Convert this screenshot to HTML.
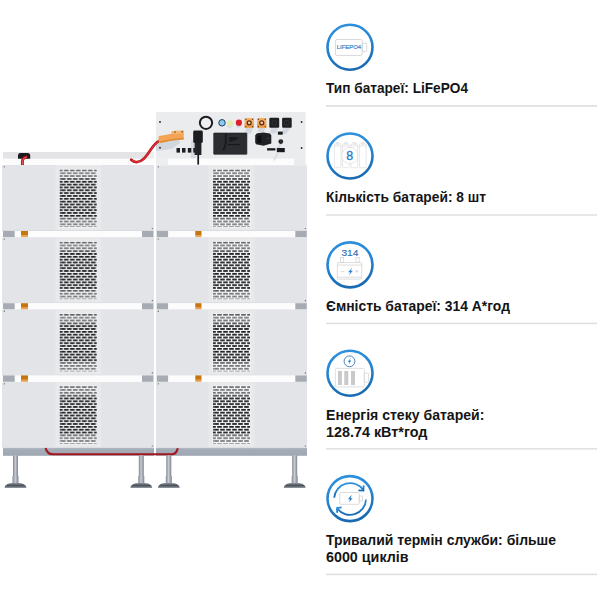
<!DOCTYPE html>
<html><head><meta charset="utf-8"><style>
html,body{margin:0;padding:0;background:#fff;width:600px;height:600px;overflow:hidden}
svg{display:block}
text{font-family:"Liberation Sans",sans-serif;font-weight:bold;fill:#151515;font-size:13.8px}
</style></head><body>
<svg width="600" height="600" viewBox="0 0 600 600">
<defs>
  <pattern id="gr" x="0" y="0" width="6" height="5.68" patternUnits="userSpaceOnUse">
    <rect x="4.2" y="0.05" width="1.8" height="1.65" fill="#121315"/>
    <rect x="0" y="0.05" width="2.8" height="1.65" fill="#121315"/>
    <rect x="1.2" y="2.89" width="4.6" height="1.65" fill="#121315"/>
  </pattern>
  <pattern id="gr2" x="0" y="0" width="6" height="5.68" patternUnits="userSpaceOnUse">
    <rect x="0.2" y="2.89" width="1.2" height="1.65" fill="#121315"/>
  </pattern>
  <linearGradient id="grfade" x1="0" y1="0" x2="0" y2="1">
    <stop offset="0" stop-color="#f4f5f7" stop-opacity="0.2"/>
    <stop offset="0.06" stop-color="#f4f5f7" stop-opacity="0.45"/>
    <stop offset="0.15" stop-color="#f4f5f7" stop-opacity="0.35"/>
    <stop offset="0.2" stop-color="#f4f5f7" stop-opacity="0"/>
    <stop offset="0.8" stop-color="#f4f5f7" stop-opacity="0"/>
    <stop offset="0.86" stop-color="#f4f5f7" stop-opacity="0.4"/>
    <stop offset="1" stop-color="#f4f5f7" stop-opacity="0.45"/>
  </linearGradient>
  <linearGradient id="blue" x1="0" y1="0" x2="0.2" y2="1">
    <stop offset="0" stop-color="#2f92de"/>
    <stop offset="0.5" stop-color="#2584d2"/>
    <stop offset="1" stop-color="#1a6bb4"/>
  </linearGradient>
  <linearGradient id="basegr" x1="0" y1="0" x2="0" y2="1">
    <stop offset="0" stop-color="#b3bac5"/>
    <stop offset="0.25" stop-color="#a4acb8"/>
    <stop offset="0.85" stop-color="#a0a8b4"/>
    <stop offset="1" stop-color="#8f97a3"/>
  </linearGradient>
  <linearGradient id="tabgr" x1="0" y1="0" x2="0" y2="1">
    <stop offset="0" stop-color="#e08a2a"/>
    <stop offset="1" stop-color="#f8c898"/>
  </linearGradient>
  <linearGradient id="leg" x1="0" y1="0" x2="1" y2="0">
    <stop offset="0" stop-color="#7d848e"/>
    <stop offset="0.45" stop-color="#c9cdd3"/>
    <stop offset="1" stop-color="#7d848e"/>
  </linearGradient>
  <linearGradient id="foot" x1="0" y1="0" x2="0" y2="1">
    <stop offset="0" stop-color="#8a9099"/>
    <stop offset="0.5" stop-color="#4b5059"/>
    <stop offset="1" stop-color="#9aa0a8"/>
  </linearGradient>
  <g id="grill">
    <rect x="-0.5" y="-0.5" width="38" height="58.5" fill="#f3f4f6"/>
    <rect x="0" y="0" width="37" height="57.5" fill="url(#gr)"/>
    <rect x="0" y="0" width="1.4" height="57.5" fill="url(#gr2)"/>
    <rect x="-0.5" y="-0.5" width="38" height="58.5" fill="url(#grfade)"/>
  </g>
  <g id="legx">
    <rect x="-2.5" y="0" width="5" height="22" fill="url(#leg)"/>
    <rect x="-3" y="20.5" width="6" height="7.5" fill="url(#leg)"/>
    <path d="M-11,32.6 Q-11,30 -8,28.6 Q-6,27.6 -3,27.6 L3,27.6 Q6,27.6 8,28.6 Q11,30 11,32.6 Z" fill="url(#foot)"/>
  </g>
</defs>

<!-- ============ LEFT CABINET ============ -->
<!-- top cap -->
<rect x="3" y="152" width="151" height="6.8" fill="#e4e4e7"/>
<rect x="147" y="152" width="7" height="13" fill="#eeeff1"/>
<rect x="3" y="158.8" width="151" height="6.2" fill="#fcfcfd"/>
<!-- small connector + red cable at top left -->
<path d="M18,158.8 L18,155.6 Q18,153 20.6,153 L27.6,153 Q30.2,153 30.2,155.6 L30.2,158.8 Z" fill="#1b1b1e"/>
<path d="M22.4,165 L22.4,161.5 Q22.6,157.4 27.2,156.8" stroke="#a8141b" stroke-width="2.9" fill="none"/>
<path d="M22.4,164.6 L22.4,161.5 Q22.6,157.6 26.8,157" stroke="#f06868" stroke-width="1" fill="none"/>

<!-- modules -->
<rect x="2" y="165.0" width="152" height="65.3" fill="#e3e4e7"/>
<rect x="55.3" y="165.0" width="46" height="65.0" fill="#e8e9eb"/>
<use href="#grill" x="59.75" y="169.5"/>
<circle cx="4.3" cy="166.8" r="0.6" fill="#4a4c52"/>
<circle cx="152.3" cy="228.5" r="0.6" fill="#4a4c52"/>
<rect x="2" y="230.3" width="152" height="0.9" fill="#cdd0d5"/>
<rect x="2" y="231.0" width="152" height="7" fill="#fcfcfd"/>
<rect x="3" y="231.0" width="11.7" height="6.4" fill="#a7acb4"/>
<rect x="142" y="231.0" width="11.5" height="6.4" fill="#a7acb4"/>
<rect x="21" y="231.0" width="7" height="4.4" fill="#c5760f"/>
<rect x="21" y="235.4" width="7" height="2.4" fill="url(#tabgr)"/>
<rect x="2" y="237.2" width="152" height="65.3" fill="#e3e4e7"/>
<rect x="55.3" y="237.2" width="46" height="65.0" fill="#e8e9eb"/>
<use href="#grill" x="59.75" y="241.7"/>
<circle cx="4.3" cy="239.0" r="0.6" fill="#4a4c52"/>
<circle cx="152.3" cy="300.7" r="0.6" fill="#4a4c52"/>
<rect x="2" y="302.5" width="152" height="0.9" fill="#cdd0d5"/>
<rect x="2" y="303.2" width="152" height="7" fill="#fcfcfd"/>
<rect x="3" y="303.2" width="11.7" height="6.4" fill="#a7acb4"/>
<rect x="142" y="303.2" width="11.5" height="6.4" fill="#a7acb4"/>
<rect x="21" y="303.2" width="7" height="4.4" fill="#c5760f"/>
<rect x="21" y="307.6" width="7" height="2.4" fill="url(#tabgr)"/>
<rect x="2" y="309.4" width="152" height="65.3" fill="#e3e4e7"/>
<rect x="55.3" y="309.4" width="46" height="65.0" fill="#e8e9eb"/>
<use href="#grill" x="59.75" y="313.9"/>
<circle cx="4.3" cy="311.2" r="0.6" fill="#4a4c52"/>
<circle cx="152.3" cy="372.9" r="0.6" fill="#4a4c52"/>
<rect x="2" y="374.7" width="152" height="0.9" fill="#cdd0d5"/>
<rect x="2" y="375.4" width="152" height="7" fill="#fcfcfd"/>
<rect x="3" y="375.4" width="11.7" height="6.4" fill="#a7acb4"/>
<rect x="142" y="375.4" width="11.5" height="6.4" fill="#a7acb4"/>
<rect x="21" y="375.4" width="7" height="4.4" fill="#c5760f"/>
<rect x="21" y="379.8" width="7" height="2.4" fill="url(#tabgr)"/>
<rect x="2" y="382.0" width="152" height="65.8" fill="#e3e4e7"/>
<rect x="55.3" y="382.0" width="46" height="65.5" fill="#e8e9eb"/>
<use href="#grill" x="59.75" y="386.2"/>
<circle cx="4.3" cy="383.8" r="0.6" fill="#4a4c52"/>
<circle cx="152.3" cy="446.0" r="0.6" fill="#4a4c52"/>
<rect x="156" y="165.0" width="151" height="65.3" fill="#e3e4e7"/>
<rect x="208.5" y="165.0" width="46" height="65.0" fill="#e8e9eb"/>
<use href="#grill" x="213" y="169.5"/>
<circle cx="158.3" cy="166.8" r="0.6" fill="#4a4c52"/>
<circle cx="305.3" cy="228.5" r="0.6" fill="#4a4c52"/>
<rect x="156" y="230.3" width="151" height="0.9" fill="#cdd0d5"/>
<rect x="156" y="231.0" width="151" height="7" fill="#fcfcfd"/>
<rect x="156.7" y="231.0" width="11.4" height="6.4" fill="#a7acb4"/>
<rect x="295.3" y="231.0" width="11.5" height="6.4" fill="#a7acb4"/>
<rect x="195.3" y="231.0" width="6.2" height="4.4" fill="#c5760f"/>
<rect x="195.3" y="235.4" width="6.2" height="2.4" fill="url(#tabgr)"/>
<rect x="156" y="237.2" width="151" height="65.3" fill="#e3e4e7"/>
<rect x="208.5" y="237.2" width="46" height="65.0" fill="#e8e9eb"/>
<use href="#grill" x="213" y="241.7"/>
<circle cx="158.3" cy="239.0" r="0.6" fill="#4a4c52"/>
<circle cx="305.3" cy="300.7" r="0.6" fill="#4a4c52"/>
<rect x="156" y="302.5" width="151" height="0.9" fill="#cdd0d5"/>
<rect x="156" y="303.2" width="151" height="7" fill="#fcfcfd"/>
<rect x="156.7" y="303.2" width="11.4" height="6.4" fill="#a7acb4"/>
<rect x="295.3" y="303.2" width="11.5" height="6.4" fill="#a7acb4"/>
<rect x="195.3" y="303.2" width="6.2" height="4.4" fill="#c5760f"/>
<rect x="195.3" y="307.6" width="6.2" height="2.4" fill="url(#tabgr)"/>
<rect x="156" y="309.4" width="151" height="65.3" fill="#e3e4e7"/>
<rect x="208.5" y="309.4" width="46" height="65.0" fill="#e8e9eb"/>
<use href="#grill" x="213" y="313.9"/>
<circle cx="158.3" cy="311.2" r="0.6" fill="#4a4c52"/>
<circle cx="305.3" cy="372.9" r="0.6" fill="#4a4c52"/>
<rect x="156" y="374.7" width="151" height="0.9" fill="#cdd0d5"/>
<rect x="156" y="375.4" width="151" height="7" fill="#fcfcfd"/>
<rect x="156.7" y="375.4" width="11.4" height="6.4" fill="#a7acb4"/>
<rect x="295.3" y="375.4" width="11.5" height="6.4" fill="#a7acb4"/>
<rect x="195.3" y="375.4" width="6.2" height="4.4" fill="#c5760f"/>
<rect x="195.3" y="379.8" width="6.2" height="2.4" fill="url(#tabgr)"/>
<rect x="156" y="382.0" width="151" height="65.8" fill="#e3e4e7"/>
<rect x="208.5" y="382.0" width="46" height="65.5" fill="#e8e9eb"/>
<use href="#grill" x="213" y="386.2"/>
<circle cx="158.3" cy="383.8" r="0.6" fill="#4a4c52"/>
<circle cx="305.3" cy="446.0" r="0.6" fill="#4a4c52"/>

<!-- base -->
<rect x="3" y="447.8" width="151" height="7.9" fill="url(#basegr)"/>
<rect x="156" y="447.8" width="151" height="7.9" fill="url(#basegr)"/>
<!-- base red cable -->
<path d="M45.6,448 Q47,454.2 53,454.3 L172,454.3 Q176.5,454.2 177.8,448.3" stroke="#a3161f" stroke-width="2.1" fill="none"/>
<!-- legs -->
<use href="#legx" x="15.5" y="455.5"/>
<use href="#legx" x="141.3" y="455.5"/>
<use href="#legx" x="168.8" y="455.5"/>
<use href="#legx" x="294.7" y="455.5"/>

<!-- ============ CONTROL BOX ============ -->
<rect x="156" y="112" width="149.5" height="47" fill="#ebecee"/>
<rect x="156" y="158.6" width="151" height="6.6" fill="#fcfcfd"/>
<rect x="294" y="158.6" width="11.5" height="6.6" fill="#eaebed"/>
<!-- shadows -->
<path d="M156,141 L178,137 L180,143 L172,149 L156,151 Z" fill="#cdd2dc" opacity="0.85"/>
<rect x="156" y="158.6" width="12" height="6.6" fill="#eceef0"/>
<path d="M191,141 L194,140 L196,158 L191,158 Z" fill="#cfd6df" opacity="0.8"/>
<path d="M246,128 L253,128 L251,133.5 L245,133.5 Z" fill="#d3d8e0"/>
<path d="M258.5,128 L265.5,128 L263.5,132 L257.5,132 Z" fill="#d3d8e0"/>
<path d="M271,128 L278,128 L276,133.5 L270,133.5 Z" fill="#d3d8e0"/>
<path d="M283.5,128 L290.5,128 L286,134 L281,134 Z" fill="#d3d8e0"/>
<path d="M280,143.5 L282.5,143.5 L279,148 L277,148 Z" fill="#d3d8e0"/>
<!-- screws -->
<circle cx="160" cy="122" r="0.9" fill="#222"/>
<circle cx="160" cy="147.7" r="0.9" fill="#222"/>
<circle cx="301.6" cy="122" r="0.9" fill="#222"/>
<circle cx="301.6" cy="148" r="0.9" fill="#222"/>
<!-- ring -->
<circle cx="206" cy="122.8" r="6.15" fill="#eeeff1" stroke="#1c1d20" stroke-width="2"/>
<!-- leds -->
<circle cx="222" cy="122.8" r="3.25" fill="#8ccaf2" stroke="#22405e" stroke-width="1"/>
<circle cx="229.6" cy="125.3" r="2.6" fill="#d6dbe0"/>
<circle cx="230.2" cy="123.3" r="3" fill="#e2ebb0"/>
<circle cx="238.6" cy="125" r="2.8" fill="#d3d8de"/>
<circle cx="238.9" cy="122.7" r="3.1" fill="#e01f2a"/>
<!-- orange sockets -->
<g id="osock">
<rect x="244.6" y="118" width="9.3" height="9.9" fill="#f3ad64"/>
<path d="M244.6,127.9 L244.6,124 L249,121.5 L253.9,124.5 L253.9,127.9 Z" fill="#e8943e" opacity="0.6"/>
<circle cx="249.25" cy="122.8" r="1.95" fill="#f6d2b0" stroke="#5a2a0a" stroke-width="1.25"/>
<circle cx="245.9" cy="119.3" r="0.65" fill="#5e300c"/>
<circle cx="252.6" cy="119.3" r="0.65" fill="#5e300c"/>
<circle cx="245.9" cy="126.6" r="0.65" fill="#5e300c"/>
<circle cx="252.6" cy="126.6" r="0.65" fill="#5e300c"/>
</g>
<use href="#osock" x="12.5"/>
<!-- black sockets -->
<rect x="269.3" y="117.8" width="9.9" height="10" rx="1.1" fill="#1e1f22"/>
<circle cx="274.25" cy="122.8" r="2.3" fill="#18191b" stroke="#404146" stroke-width="0.7"/><circle cx="274.25" cy="122.8" r="0.5" fill="#4a4b50"/>
<rect x="282.1" y="117.8" width="9.6" height="10" rx="1.1" fill="#1e1f22"/>
<circle cx="286.9" cy="122.8" r="2.3" fill="#18191b" stroke="#404146" stroke-width="0.7"/><circle cx="286.9" cy="122.8" r="0.5" fill="#4a4b50"/>
<!-- display -->
<rect x="213.7" y="133" width="33.2" height="21.3" rx="0.6" fill="#2b2d31" stroke="#1a1b1e" stroke-width="0.6"/>
<path d="M225.7,133.8 L225.7,142.5 Q225.5,146.5 223.4,150" stroke="#16171a" stroke-width="1.6" fill="none"/>
<path d="M229.3,137 L237.6,137 L237.6,139.6 L229.3,142.3 Z" fill="#1a1b1e"/>
<path d="M228,144.6 L239.5,144.6" stroke="#17181b" stroke-width="1.2" fill="none"/>
<!-- power inlet -->
<path d="M257,133.3 L263.5,132.4 L270,133.6 L271.3,135.5 L271.3,143.5 L263.5,145.8 L256,144.3 L255.2,142.5 L255.2,135.3 Z" fill="#202125"/>
<rect x="257.3" y="135.6" width="4" height="7.4" fill="#0f1012"/>
<rect x="267" y="137.8" width="2.5" height="1.4" fill="#35363a"/>
<rect x="277.9" y="131.6" width="4.8" height="3.1" fill="#1a1b1e"/>
<circle cx="280.8" cy="141.6" r="2.4" fill="#1f2023"/>
<circle cx="280.8" cy="141.3" r="1" fill="#3a3b40"/>
<rect x="267.1" y="148.2" width="8.3" height="2.3" fill="#1a1b1e"/>
<rect x="276.8" y="148" width="8" height="4.2" fill="#1a1b1e"/>
<path d="M278,152.5 L274,160.5" stroke="#d6dae0" stroke-width="1.6" fill="none"/>
<!-- small squares -->
<rect x="176.5" y="148" width="3.5" height="4.6" fill="#1c1d20"/>
<rect x="182" y="148" width="3.5" height="4.6" fill="#1c1d20"/>
<rect x="187.8" y="148" width="3.5" height="4.6" fill="#1c1d20"/>
<rect x="193.3" y="148" width="2.5" height="4.6" fill="#1c1d20"/>
<!-- plug + cable -->
<path d="M198.2,154 L198.2,164.6" stroke="#18191c" stroke-width="1.7" fill="none"/>
<rect x="193.2" y="130.5" width="9.6" height="12.5" rx="1.4" fill="#1b1c1f"/>
<rect x="194.6" y="142" width="6.8" height="13" rx="0.6" fill="#202124"/>
<path d="M196,144 L196,154" stroke="#2d2e32" stroke-width="0.8"/>
<!-- orange connector + red cable -->
<path d="M158.8,141.2 C152.5,144 149.5,153.5 143.5,159 C139.5,162.8 134.5,163 131.2,159.8" stroke="#b8161d" stroke-width="2.7" fill="none" stroke-linecap="round"/>
<path d="M158.3,141.8 C152.3,144.6 149.3,154 143.3,159.4 C139.5,162.6 135,162.6 132,160.2" stroke="#e0353a" stroke-width="1.1" fill="none"/>
<path d="M158.6,136.6 Q158.8,136 159.6,135.9 L171.4,133.8 L171.8,131.3 Q171.9,130.9 172.4,130.9 L183,130.4 Q183.7,130.4 183.7,131.1 L183.8,138.8 Q183.8,139.4 183.1,139.5 L172.2,140.4 L159.8,142.9 Q158.7,143 158.6,142 Z" fill="#f3a555"/>
<path d="M172.3,131.2 L183.2,130.7 L183.3,133.6 L172.4,134.6 Z" fill="#f7ba75" opacity="0.8"/>
<path d="M159.2,141.6 L172.2,139 L183.7,137.9 L183.7,138.8 Q183.8,139.4 183.1,139.5 L172.2,140.4 L159.8,142.9 Z" fill="#dc8a35"/>
<circle cx="175" cy="131.9" r="0.75" fill="#6a3510"/>
<circle cx="182.2" cy="131.7" r="0.75" fill="#6a3510"/>

<!-- ============ ICONS ============ -->
<g fill="none" stroke="url(#blue)" stroke-width="2.6">
<circle cx="350" cy="47.25" r="22.5"/>
<circle cx="350" cy="156" r="22.5"/>
<circle cx="350" cy="264.85" r="22.5"/>
<circle cx="350" cy="373.2" r="22.5"/>
<circle cx="350" cy="498.6" r="22.5"/>
</g>

<!-- icon 1: LiFePO4 battery -->
<rect x="335.4" y="39.5" width="26.8" height="15.9" rx="1.4" fill="none" stroke="#cbccd0" stroke-width="0.75"/>
<rect x="362.2" y="43.2" width="4.5" height="8.2" rx="0.8" fill="none" stroke="#cbccd0" stroke-width="0.75"/>
<text x="336.8" y="49.1" style="font-size:5.9px;font-weight:normal;fill:#3a7cc0;stroke:#3a7cc0;stroke-width:0.18" textLength="24.2" lengthAdjust="spacingAndGlyphs">LIFEPO4</text>

<!-- icon 2: 8 batteries -->
<g fill="none" stroke="#d6d7da" stroke-width="0.6">
<rect x="334.3" y="144" width="6.7" height="23.7" rx="0.8"/>
<rect x="336.3" y="142.3" width="2.7" height="1.7" rx="0.4"/>
<path d="M334.3,146 L341.0,146"/>
<rect x="342.6" y="144" width="6.7" height="23.7" rx="0.8"/>
<rect x="344.6" y="142.3" width="2.7" height="1.7" rx="0.4"/>
<path d="M342.6,146 L349.3,146"/>
<rect x="351.0" y="144" width="6.7" height="23.7" rx="0.8"/>
<rect x="353.0" y="142.3" width="2.7" height="1.7" rx="0.4"/>
<path d="M351.0,146 L357.7,146"/>
<rect x="359.4" y="144" width="6.7" height="23.7" rx="0.8"/>
<rect x="361.4" y="142.3" width="2.7" height="1.7" rx="0.4"/>
<path d="M359.4,146 L366.09999999999997,146"/>
</g>
<circle cx="349.8" cy="155.5" r="8.1" fill="#fff" stroke="#d6d7da" stroke-width="0.6"/>
<text x="349.8" y="160" text-anchor="middle" style="font-size:12.4px;font-weight:normal;fill:#2a7dc8;stroke:#2a7dc8;stroke-width:0.35">8</text>

<!-- icon 3: 314 car battery -->
<text x="341.4" y="255.9" style="font-size:9.3px;font-weight:normal;fill:#2f6fb5;stroke:#2f6fb5;stroke-width:0.15" textLength="17" lengthAdjust="spacingAndGlyphs">314</text>
<g fill="none" stroke="#cfd0d3" stroke-width="0.7">
<rect x="337.4" y="262.6" width="24.3" height="16.5" rx="0.6"/>
<path d="M337.4,265.1 L361.7,265.1 M337.4,277.2 L361.7,277.2"/>
<rect x="340.5" y="257.6" width="3.2" height="5"/>
<rect x="356" y="257.6" width="3.2" height="5"/>
<path d="M340.6,271.4 L344.4,271.4 M355,271.3 L358.6,271.3 M356.8,269.5 L356.8,273.1"/>
</g>
<path d="M351.9,268 L348.1,272.2 L350.3,272.2 L349,275.3 L352.9,270.7 L350.7,270.7 L352.1,268 Z" fill="#2a86d6"/>

<!-- icon 4: battery with charge circle -->
<circle cx="349.5" cy="361.3" r="5.4" fill="none" stroke="#2a6fb5" stroke-width="0.85"/>
<path d="M350.5,357.9 L347.9,362 L349.6,362 L348.6,364.9 L351.2,360.6 L349.5,360.6 L350.8,357.9 Z" fill="#2a7dc8"/>
<rect x="335.4" y="368.4" width="28.9" height="18.5" rx="1" fill="none" stroke="#d3d4d7" stroke-width="0.75"/>
<rect x="364.3" y="373.2" width="4.3" height="9" rx="0.6" fill="none" stroke="#d3d4d7" stroke-width="0.75"/>
<rect x="338" y="371" width="3.9" height="14" fill="#c9c9cc"/>
<rect x="344.3" y="371" width="4" height="14" fill="#c9c9cc"/>
<rect x="351" y="371" width="4" height="14" fill="#c9c9cc"/>

<!-- icon 5: cycle -->
<g fill="none" stroke="url(#blue)" stroke-width="1.8">
<path d="M334.2,497.8 A16,16 0 0 1 363.2,489.8"/>
<path d="M366,499.6 A16,16 0 0 1 337.2,508.4"/>
<path d="M358.4,490.4 L363.4,490.6 L363.7,485.4"/>
<path d="M341.6,507.4 L337,508.1 L337.2,512.8"/>
</g>
<rect x="339.8" y="492.5" width="19.5" height="11.8" rx="1" fill="none" stroke="#cfd0d3" stroke-width="0.75"/>
<rect x="359.3" y="496" width="3.2" height="5" rx="0.4" fill="none" stroke="#cfd0d3" stroke-width="0.75"/>
<path d="M351.2,495.3 L348,499.3 L350,499.3 L349,502.3 L352.6,498.2 L350.6,498.2 L351.6,495.3 Z" fill="#2a7dc8"/>

<!-- ============ TEXT ============ -->
<text x="326" y="92.7" textLength="142" lengthAdjust="spacingAndGlyphs">Тип батареї: LiFePO4</text>
<text x="326" y="202.2" textLength="160" lengthAdjust="spacingAndGlyphs">Кількість батарей: 8 шт</text>
<text x="326" y="310.8" textLength="184" lengthAdjust="spacingAndGlyphs">Ємність батареї: 314 А*год</text>
<text x="326" y="419.5" textLength="158.4" lengthAdjust="spacingAndGlyphs">Енергія стеку батарей:</text>
<text x="326" y="436.5" textLength="101.4" lengthAdjust="spacingAndGlyphs">128.74 кВт*год</text>
<text x="326" y="544.5" textLength="230" lengthAdjust="spacingAndGlyphs">Тривалий термін служби: більше</text>
<text x="326" y="561.5" textLength="82.6" lengthAdjust="spacingAndGlyphs">6000 циклів</text>

<g fill="#e1e1e3">
<rect x="326" y="105" width="271" height="1.8"/>
<rect x="326" y="214.2" width="271" height="1.6"/>
<rect x="326" y="322.6" width="271" height="1.6"/>
<rect x="326" y="448" width="271" height="1.6"/>
<rect x="326" y="573.6" width="271" height="1.6"/>
</g>
</svg>
</body></html>
